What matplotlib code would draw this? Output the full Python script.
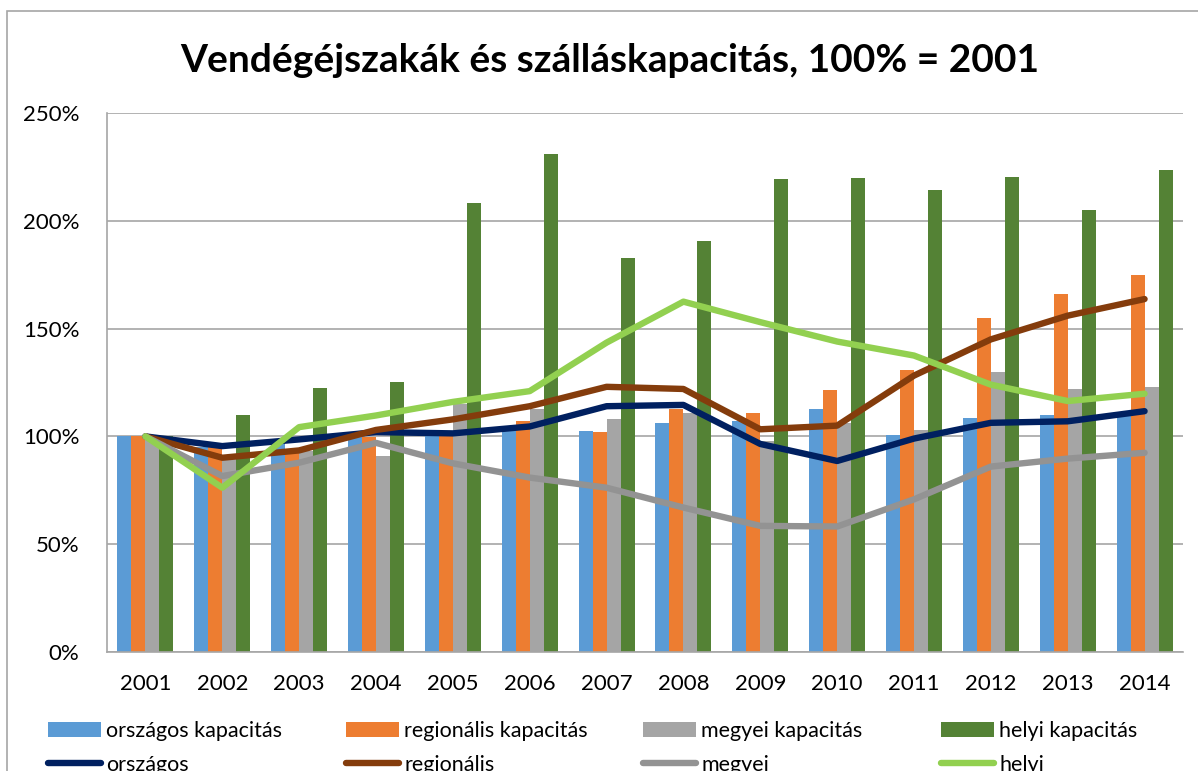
import numpy as np
import matplotlib.pyplot as plt
from matplotlib.patches import Rectangle

plt.rcParams['font.family'] = ['Lato', 'DejaVu Sans']

# ----- data (% of 2001) -----
years = ['2001', '2002', '2003', '2004', '2005', '2006', '2007',
         '2008', '2009', '2010', '2011', '2012', '2013', '2014']

orszagos_kap = [100, 95, 97, 100, 100.5, 104, 102.5, 106, 107, 112.5, 100.5, 108.5, 110, 111]
regionalis_kap = [100, 97, 93, 99.5, 100, 107, 102, 112.5, 111, 121.3, 131, 155, 166, 174.7]
megyei_kap = [100, 91, 93, 91, 115, 112.5, 108, 111, 98, 106, 103, 130, 122, 122.7]
helyi_kap = [100, 109.7, 122.6, 125.4, 208.3, 231, 182.9, 190.7, 219.4, 220, 214.4, 220.4, 205, 223.6]

orszagos = [100, 95.5, 98.6, 102, 101.4, 104.6, 114, 114.6, 96.5, 88.6, 99, 106.3, 107, 111.7]
regionalis = [100, 90.1, 93.5, 103, 107.9, 114, 123, 122, 103.3, 105, 128.2, 145, 156, 163.7]
megyei = [100, 81.6, 87.8, 97, 87.5, 80.9, 76.2, 67, 58.5, 58.2, 70.8, 86, 89.7, 92.4]
helyi = [100, 76.2, 104.3, 109.7, 116, 121, 143.5, 162.5, 153, 144, 137.5, 124, 116.4, 119.8]

bar_series = [
    (orszagos_kap, 'országos kapacitás', '#5B9BD5'),
    (regionalis_kap, 'regionális kapacitás', '#ED7D31'),
    (megyei_kap, 'megyei kapacitás', '#A5A5A5'),
    (helyi_kap, 'helyi kapacitás', '#548235'),
]
line_series = [
    (orszagos, 'országos', '#002060'),
    (regionalis, 'regionális', '#843C0C'),
    (megyei, 'megyei', '#939393'),
    (helyi, 'helyi', '#92D050'),
]

# ----- figure -----
fig = plt.figure(figsize=(11.98, 7.71), dpi=100)
ax = fig.add_axes([107 / 1198, 1 - 652 / 771, 1076 / 1198, 539 / 771])

# outer chart frame (cut off at the right and bottom)
fig.patches.append(Rectangle((7 / 1198, -0.1), 1.2, 1 - 11 / 771 + 0.1,
                             transform=fig.transFigure, fill=False,
                             edgecolor='#a6a6a6', linewidth=1.2))

x = np.arange(len(years))
w = 0.182
bars = []
for i, (vals, lab, col) in enumerate(bar_series):
    b = ax.bar(x + (i - 1.5) * w, vals, width=w, color=col, label=lab, zorder=2)
    bars.append(b)

lines = []
for vals, lab, col in line_series:
    ln, = ax.plot(x, vals, color=col, linewidth=4.6, label=lab,
                  solid_capstyle='round', solid_joinstyle='round', zorder=3)
    lines.append(ln)

ax.set_xlim(-0.5, len(years) - 0.5)
ax.set_ylim(0, 250)
ax.set_yticks(np.arange(0, 251, 50))
ax.set_yticklabels([f'{v}%' for v in range(0, 251, 50)])
ax.set_xticks(x)
ax.set_xticklabels(years)
ax.yaxis.grid(True, color='#a6a6a6', linewidth=1.2, zorder=0)
ax.set_axisbelow(True)
for s in ['top', 'right']:
    ax.spines[s].set_visible(False)
for s in ['left', 'bottom']:
    ax.spines[s].set_color('#a6a6a6')
    ax.spines[s].set_linewidth(1.2)
ax.tick_params(axis='both', length=0, labelsize=16, colors='black')
ax.tick_params(axis='x', pad=16)
ax.tick_params(axis='y', pad=20)

fig.text(610 / 1198, 1 - 61 / 771, 'Vendégéjszakák és szálláskapacitás, 100% = 2001',
         ha='center', va='center', fontsize=28, fontweight='bold')

# legend: one small legend per column so the columns sit where they do in the original
col_x = [48, 346, 643, 941]
for i in range(4):
    fig.legend(handles=[bars[i], lines[i]], loc='upper left',
               bbox_to_anchor=(col_x[i] / 1198, 1 - 721 / 771),
               frameon=False, fontsize=15.5, handlelength=2.45, handleheight=0.7,
               handletextpad=0.25, labelspacing=0.65, borderpad=0, borderaxespad=0)

fig.savefig('out.png', dpi=100)
